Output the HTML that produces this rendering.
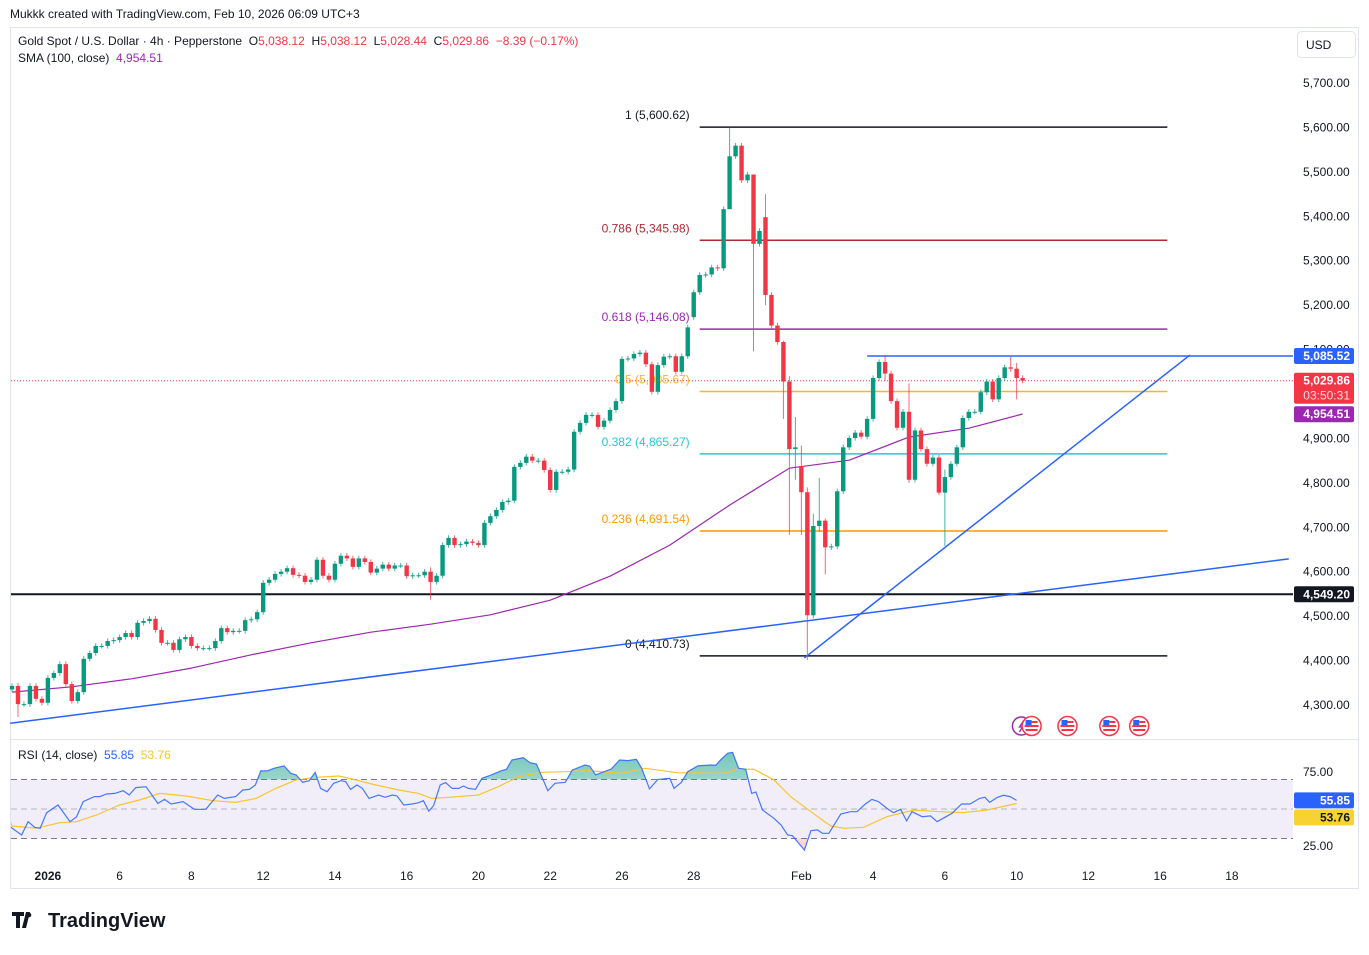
<!DOCTYPE html>
<html><head><meta charset="utf-8">
<style>
html,body{margin:0;padding:0;background:#fff;}
body{width:1369px;height:950px;overflow:hidden;position:relative;font-family:"Liberation Sans",sans-serif;color:#131722;}
svg text{font-family:"Liberation Sans",sans-serif;white-space:pre;}
</style></head><body>
<svg id="chart" width="1369" height="950" viewBox="0 0 1369 950" xmlns="http://www.w3.org/2000/svg">
  <text x="10" y="18" font-size="12" fill="#131722">Mukkk created with TradingView.com, Feb 10, 2026 06:09 UTC+3</text>
  <rect x="10.5" y="27.5" width="1348" height="861" fill="#fff" stroke="#e0e3eb"/>
  <line x1="11" y1="739.5" x2="1358" y2="739.5" stroke="#e0e3eb"/>
  <g id="rsiBand"></g>
  <g id="grid"></g>
  <g id="lines"></g>
  <g id="candles"></g>
  <g id="overlay"></g>
  <g id="rsi"></g>
  <g id="axis"></g>
  <g font-size="12">
    <text x="18" y="45"><tspan fill="#131722">Gold Spot / U.S. Dollar · 4h · Pepperstone&#160;&#160;</tspan><tspan fill="#131722">O</tspan><tspan fill="#f23645">5,038.12&#160;&#160;</tspan><tspan fill="#131722">H</tspan><tspan fill="#f23645">5,038.12&#160;&#160;</tspan><tspan fill="#131722">L</tspan><tspan fill="#f23645">5,028.44&#160;&#160;</tspan><tspan fill="#131722">C</tspan><tspan fill="#f23645">5,029.86&#160;&#160;−8.39 (−0.17%)</tspan></text>
    <text x="18" y="62"><tspan fill="#131722">SMA (100, close)&#160;&#160;</tspan><tspan fill="#9c27b0">4,954.51</tspan></text>
    <text x="18" y="759"><tspan fill="#131722">RSI (14, close)&#160;&#160;</tspan><tspan fill="#2962ff">55.85&#160;&#160;</tspan><tspan fill="#f7c52c">53.76</tspan></text>
  </g>
  <g>
    <rect x="1297.5" y="31.5" width="58" height="26" rx="4" fill="#fff" stroke="#e0e3eb"/>
    <text x="1306" y="49" font-size="12" fill="#131722">USD</text>
  </g>
  <g id="events"></g>
  <g>
    <path d="M12 912h12v4h-4v12h-4v-12h-4z M26 912h4l-4 16h-4z" fill="#131722"/>
    <circle cx="29" cy="915" r="2.3" fill="#131722"/>
    <text x="48" y="927" font-size="20" font-weight="bold" fill="#131722">TradingView</text>
  </g>
</svg>
<script>
// ---------- data ----------
const closes = [4343,4302,4302,4343,4314,4305,4361,4372,4392,4347,4309,4329,4404,4417,4433,4433,4444,4446,4453,4462,4453,4485,4489,4494,4469,4440,4440,4424,4448,4453,4433,4428,4428,4428,4444,4473,4464,4467,4467,4491,4493,4509,4575,4582,4595,4600,4608,4593,4591,4577,4582,4627,4591,4582,4618,4636,4630,4611,4630,4622,4598,4607,4616,4607,4614,4614,4590,4592,4592,4600,4577,4591,4660,
4676,4660,4662,4668,4665,4660,4710,4725,4739,4757,4760,4836,4845,4859,4850,4850,4829,4784,4825,4825,4830,4915,4935,4953,4953,4926,4940,4964,4984,5079,5080,5090,5093,5067,5005,5065,5084,5085,5050,5085,5150,
5229,5268,5269,5285,5283,5416,5535,5559,5481,5494,5338,5367,5223,5154,5117,5028,4876,4880,4779,4502,4703,4715,4655,4657,4781,4880,4901,4913,4904,4944,5036,5072,5046,4984,4924,4960,4807,4918,4876,4843,4857,4778,4813,4843,4880,4946,4960,4960,5004,5028,4988,5036,5060,5057,5036,5030];
const firstOpen = 4335;
const openOverrides = {126:5398, 132:4838, 114:5173};
const wickOverrides = {1:[4350,4273],70:[4610,4537],120:[5600,5416],124:[5494,5096],126:[5450,5200],129:[5120,4944],130:[5040,4683],131:[4948,4807],132:[4884,4683],133:[4790,4401],134:[4731,4495],135:[4811,4690],136:[4720,4594],146:[5088,5030],150:[5024,4800],156:[4830,4658],167:[5084,5050],168:[5070,4988]};
const smaBars = [0,10,20,30,40,50,60,70,80,90,100,110,120,130,140,150,160,169];
const smaVals = [4329,4341,4359,4383,4413,4440,4464,4482,4503,4536,4590,4660,4750,4833,4851,4903,4923,4955];
const rsiBars = [-0.2,1.6,2.7,3.8,4.7,5.8,7.7,9.7,10.8,11.9,13.8,14.7,15.8,17.2,18.6,19.6,20.7,22.4,24.4,25.5,26.6,28.6,30.5,32.4,34.4,35.5,37.4,38.6,39.7,40.7,41.6,42.7,43.8,45.5,46.6,47.5,48.6,49.7,50.7,51.6,52.7,53.8,55,55.8,56.6,57.7,58.6,59.7,61.3,62.4,63.6,64.4,65.5,66.9,68,68.8,69.7,70.5,71.6,72.5,73.6,74.7,75.5,76.3,77.5,78.6,79.7,80.8,81.9,82.7,83.6,85.5,86.6,87.7,89.6,90.8,92.5,93.7,95.8,96.6,97.6,100.2,101.6,103,104.4,105.3,106.6,108,110,110.7,111.9,113,114.7,116.9,117.7,118.6,119.7,120.5,121.5,122.7,123.7,124.4,125.5,127.4,128.6,129.7,130.5,132.5,133.6,134.7,135.5,136.6,138.6,140.2,141.3,142.7,143.8,144.9,146.3,147.4,148.6,149.6,150.5,152.2,153.6,154.7,156,157.2,158.8,160.2,161.8,162.7,163.5,164.7,165.8,166.9,168];
const rsiVals = [37.6,32.4,41.4,37.6,36.9,47.5,52.7,41.4,44.8,55,58.4,58.4,60.2,60.6,62.4,59.5,64.5,65.1,53.8,56.5,53.4,55,49.8,49.8,59.5,57.2,58.4,62.9,63.3,66.3,75.8,75.8,77.6,79.2,74.2,73.1,68.1,69.2,74.9,64,61.7,67.4,69.2,68.5,63.3,66.3,64,57.2,59.5,57.9,59.5,58.8,52.7,53.4,54.3,55.6,48.6,52.3,66.3,67.9,64,64,65.6,64,63.3,70.8,72.4,74.2,76,76.9,83.2,84.8,81.4,80.5,62.4,67.4,68.1,76.4,79.8,79.1,73.1,77.1,83.2,82.8,83.7,77.6,63.6,70.1,70.8,64,67.9,75.3,79.2,79.8,79.6,83.7,87.8,88.4,77.6,76.9,60.6,61.5,49.3,43.7,39.2,32.4,31.9,22.2,35.3,35.8,33.5,33.5,46.6,48.2,48.2,53.4,56.5,55,50.4,47.5,49.8,41.9,48.2,44.8,45.3,41.4,44.4,47.1,53.4,53.4,57.2,57.9,54.5,57.7,59.3,58.4,55.85];
const rsiMaBars = [-0.3,0,4.1,8,10.8,14.1,18,21.3,24.7,29.1,33.6,37.4,40.8,44.1,47.5,50.8,54.7,58,60.8,64.7,68,70.2,73,78,81.3,84.7,88.6,92.5,96.3,101.9,105.8,111.3,119.1,121.3,124.1,127.4,130.2,133.6,136.9,139.1,142.4,146.3,150.8,155.2,159.1,163,168];
const rsiMaVals = [42,38.5,37,40.7,41.4,45.9,52.7,56.1,60.6,58.8,55.6,54.5,57.2,64,69.7,71.5,72.4,69.2,66.3,62.9,60.6,57.2,57.9,59.5,65.1,71.9,74.9,75.3,76,74.2,77.6,74.6,74.2,77.1,76.9,69.7,58.4,48.2,38.5,36.9,37.6,44.8,49.3,48.2,47.5,49.3,53.76];
const priceTicks = [5700,5600,5500,5400,5300,5200,5100,4900,4800,4700,4600,4500,4400,4300];
const rsiTicks = [75,25];
const fibRatios = ["1","0.786","0.618","0.5","0.382","0.236","0"];
const fibPrices = [5600.62,5345.98,5146.08,5005.67,4865.27,4691.54,4410.73];
const fibColors = ["#131722","#b22833","#9c27b0","#f7b52c","#26c6da","#ff9800","#131722"];
const fibStartBar = 115, fibEndBar = 193.2;
const dateLabels = ["2026","6","8","12","14","16","20","22","26","28","Feb","4","6","10","12","16","18"];
const dateBars = [6,18,30,42,54,66,78,90,102,114,132,144,156,168,180,192,204];
const supportLevel = 4549.20, resistLevel = 5085.52, resistStartBar = 143;
const trendA = [[-0.3,4259],[213.5,4629]];
const trendB = [[132.5,4406],[197,5088]];
const lastPrice = 5029.86, smaLast = 4954.51, rsiLast = 55.85, rsiMaLast = 53.76;
const eventBars = [168.8,170.5,176.5,183.5,188.5];

// ---------- scales ----------
const NS = "http://www.w3.org/2000/svg";
const bx = i => 12 + i * 5.98;
const py = p => 83 + (5700 - p) * 0.4443;
const ry = r => 809 - (r - 50) * 1.475;
const PLOT_R = 1293;
function mk(tag, attrs, parent, text) {
  const e = document.createElementNS(NS, tag);
  for (const k in attrs) e.setAttribute(k, attrs[k]);
  if (text !== undefined) e.textContent = text;
  parent.appendChild(e);
  return e;
}
const fmt = v => v.toLocaleString("en-US", {minimumFractionDigits: 2, maximumFractionDigits: 2});

// RSI band
const band = document.getElementById("rsiBand");
let br = mk("rect", {x: 11, y: ry(70), width: PLOT_R - 11, height: ry(30) - ry(70), fill: "#7e57c2", "fill-opacity": 0.1}, band);


[70, 50, 30].forEach(v => {
  const l = mk("line", {x1: 11, x2: PLOT_R, y1: ry(v), y2: ry(v), stroke: v === 50 ? "#b2b5be" : "#787b86", "stroke-dasharray": "6 4", "stroke-width": 1}, band);
  
  
});

// lines layer
const lines = document.getElementById("lines");
let sup = mk("line", {x1: 11, x2: PLOT_R, y1: py(supportLevel), y2: py(supportLevel), stroke: "#131722", "stroke-width": 2}, lines);


fibPrices.forEach((p, k) => {
  const l = mk("line", {x1: bx(fibStartBar), x2: bx(fibEndBar), y1: py(p), y2: py(p), stroke: fibColors[k], "stroke-width": 1.5}, lines);
  
  
  const t = mk("text", {x: bx(fibStartBar) - 10, y: py(p) - 8, "text-anchor": "end", "font-size": 12, fill: fibColors[k]}, lines, fibRatios[k] + " (" + fmt(p) + ")");
  
  
});
let res = mk("line", {x1: bx(resistStartBar), x2: PLOT_R, y1: py(resistLevel), y2: py(resistLevel), stroke: "#2962ff", "stroke-width": 1.5}, lines);


[trendA, trendB].forEach((t, k) => {
  const l = mk("line", {x1: bx(t[0][0]), y1: py(t[0][1]), x2: bx(t[1][0]), y2: py(t[1][1]), stroke: "#2962ff", "stroke-width": 1.5}, lines);
  
  
});
let cur = mk("line", {x1: 11, x2: PLOT_R, y1: py(lastPrice), y2: py(lastPrice), stroke: "#f23645", "stroke-dasharray": "1 2", "stroke-width": 1}, lines);


// SMA
let smaD = smaBars.map((b, k) => (k ? "L" : "M") + bx(b).toFixed(1) + " " + py(smaVals[k]).toFixed(1)).join(" ");
let sma = mk("path", {d: smaD, fill: "none", stroke: "#9c27b0", "stroke-width": 1.2, "stroke-linejoin": "round"}, lines);



// candles
const cg = document.getElementById("candles");
closes.forEach((c, i) => {
  const o = openOverrides[i] !== undefined ? openOverrides[i] : (i ? closes[i - 1] : firstOpen);
  const up = c >= o;
  const col = up ? "#089981" : "#f23645";
  const w = wickOverrides[i] || [Math.max(o, c) + 6, Math.min(o, c) - 6];
  const x = bx(i);
  const g = mk("g", {}, cg);
  
  
  mk("line", {x1: x, x2: x, y1: py(w[0]), y2: py(w[1]), stroke: col, "stroke-width": 1, "stroke-opacity": 0.75}, g);
  const top = py(Math.max(o, c)), bot = py(Math.min(o, c));
  mk("rect", {x: x - 2.2, y: top, width: 4.4, height: Math.max(1, bot - top), fill: col}, g);
});

// RSI
const rg = document.getElementById("rsi");
const defs = mk("defs", {}, rg);
const grad = mk("linearGradient", {id: "gfill", x1: 0, y1: 0, x2: 0, y2: 1}, defs);
mk("stop", {offset: "0", "stop-color": "#089981", "stop-opacity": 0.55}, grad);
mk("stop", {offset: "1", "stop-color": "#089981", "stop-opacity": 0.05}, grad);
const cpA = mk("clipPath", {id: "above70"}, defs);
mk("rect", {x: 0, y: 742, width: 1369, height: ry(70) - 742}, cpA);
const cpB = mk("clipPath", {id: "below30"}, defs);
mk("rect", {x: 0, y: ry(30), width: 1369, height: 30}, cpB);
const cpP = mk("clipPath", {id: "plot"}, defs);
mk("rect", {x: 11, y: 740, width: PLOT_R - 11, height: 120}, cpP);
const rsiPts = rsiBars.map((b, k) => bx(b).toFixed(1) + " " + ry(rsiVals[k]).toFixed(1));
const areaD = "M" + rsiPts.join(" L") + " L" + bx(rsiBars[rsiBars.length - 1]) + " " + ry(70) + " L" + bx(rsiBars[0]) + " " + ry(70) + "Z";
let fa = mk("path", {d: areaD, fill: "url(#gfill)", "clip-path": "url(#above70)"}, rg);


const areaD2 = "M" + rsiPts.join(" L") + " L" + bx(rsiBars[rsiBars.length - 1]) + " " + ry(30) + " L" + bx(rsiBars[0]) + " " + ry(30) + "Z";
let fb = mk("path", {d: areaD2, fill: "#f23645", "fill-opacity": 0.2, "clip-path": "url(#below30)"}, rg);


let ma = mk("path", {d: "M" + rsiMaBars.map((b, k) => bx(b).toFixed(1) + " " + ry(rsiMaVals[k]).toFixed(1)).join(" L"), fill: "none", stroke: "#f7c52c", "stroke-width": 1.2, "clip-path": "url(#plot)"}, rg);


let rl = mk("path", {d: "M" + rsiPts.join(" L"), fill: "none", stroke: "#2962ff", "stroke-width": 1.2, "stroke-opacity": 0.85, "clip-path": "url(#plot)"}, rg);



// axes
const ax = document.getElementById("axis");
priceTicks.forEach(p => {
  const t = mk("text", {x: 1303, y: py(p) + 4, "font-size": 12, fill: "#131722"}, ax, fmt(p));
  
  
});
rsiTicks.forEach(r => {
  const t = mk("text", {x: 1303, y: ry(r) + 4, "font-size": 12, fill: "#131722"}, ax, fmt(r));
  
  
});
dateLabels.forEach((d, k) => {
  const t = mk("text", {x: bx(dateBars[k]), y: 880, "font-size": 12, "text-anchor": "middle", fill: "#131722", "font-weight": d === "2026" ? "bold" : "normal"}, ax, d);
  
  
});
function tag(y, h, bg, fg, lines_, name) {
  const g = mk("g", {}, ax);
  
  
  mk("rect", {x: 1294, y: y - 8, width: 60, height: h, rx: 2, fill: bg}, g);
  lines_.forEach((s, k) => mk("text", {x: 1350, y: y + 4 + k * 15, "font-size": 12, "font-weight": k ? "normal" : "bold", "text-anchor": "end", fill: k ? "#ffd9dc" : fg}, g, s));
}
tag(py(resistLevel), 16, "#2962ff", "#fff", [fmt(resistLevel)], "resistance-price-tag");
tag(py(lastPrice), 31, "#f23645", "#fff", [fmt(lastPrice), "03:50:31"], "last-price-tag");
tag(py(smaLast), 16, "#9c27b0", "#fff", [fmt(smaLast)], "sma-price-tag");
tag(py(supportLevel), 16, "#131722", "#fff", [fmt(supportLevel)], "support-price-tag");
const rsiTagY = ry(rsiLast);
tag(rsiTagY, 16, "#2962ff", "#fff", [rsiLast.toFixed(2)], "rsi-value-tag");
tag(Math.max(ry(rsiMaLast), rsiTagY + 17), 16, "#f7d231", "#131722", [rsiMaLast.toFixed(2)], "rsi-ma-value-tag");

// events
const ev = document.getElementById("events");
eventBars.forEach((b, k) => {
  const x = bx(b), y = 726;
  const g = mk("g", {}, ev);
  
  
  if (k === 0) {
    mk("circle", {cx: x, cy: y, r: 9, fill: "#fff", stroke: "#9c27b0", "stroke-width": 1.5}, g);
    mk("path", {d: `M${x+2} ${y-5} L${x-2} ${y+1} L${x+1} ${y+1} L${x-2} ${y+6}`, stroke: "#9c27b0", fill: "none", "stroke-width": 1.3}, g);
  } else {
    mk("circle", {cx: x, cy: y, r: 9.5, fill: "#fff", stroke: "#f23645", "stroke-width": 1.5}, g);
    mk("rect", {x: x - 7, y: y - 1, width: 14, height: 2, fill: "#f23645"}, g);
    mk("rect", {x: x - 6, y: y + 3, width: 12, height: 2, fill: "#f23645"}, g);
    mk("rect", {x: x - 6, y: y - 6, width: 6, height: 5, fill: "#2962ff"}, g);
    mk("rect", {x: x, y: y - 5, width: 6, height: 2, fill: "#f23645"}, g);
  }
});
</script>
</body></html>
